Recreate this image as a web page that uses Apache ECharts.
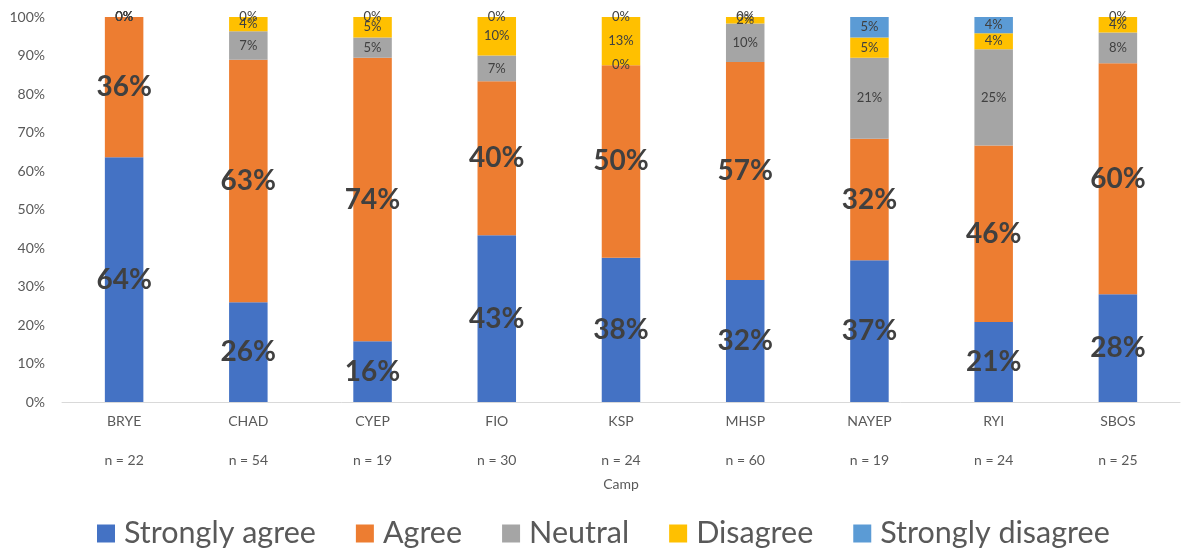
<!DOCTYPE html>
<html>
<head>
<meta charset="utf-8">
<script src="https://cdn.jsdelivr.net/npm/echarts@6/dist/echarts.min.js"></script>
<style>html,body{margin:0;padding:0;background:#fff;}#c{width:1181px;height:550px;}</style>
</head>
<body>
<div id="c"></div>
<script>
const categories = ['BRYE','CHAD','CYEP','FIO','KSP','MHSP','NAYEP','RYI','SBOS'];
const sampleSizes = ['n = 22','n = 54','n = 19','n = 30','n = 24','n = 60','n = 19','n = 24','n = 25'];
const stronglyAgree = [63.6, 25.9, 15.8, 43.3, 37.5, 31.7, 36.8, 20.8, 28.0];
const agree = [36.4, 63.0, 73.6, 40.0, 50.0, 56.6, 31.6, 45.8, 60.0];
const neutral = [0, 7.4, 5.3, 6.7, 0, 10.0, 21.0, 25.0, 8.0];
const disagree = [0, 3.7, 5.3, 10.0, 12.5, 1.7, 5.3, 4.2, 4.0];
const stronglyDisagree = [0, 0, 0, 0, 0, 0, 5.3, 4.2, 0];
const seriesNames = ['Strongly agree','Agree','Neutral','Disagree','Strongly disagree'];
const seriesColors = ['#4472C4','#ED7D31','#A5A5A5','#FFC000','#5B9BD5'];
const yTicks = {min: 0, max: 100, interval: 10};

const FONT = 'Lato, "Open Sans", sans-serif';
const fmt = p => Math.round(p.value) + '%';
const bigLabel = {show: true, position: 'inside', formatter: fmt, fontSize: 28, fontWeight: 'bold', color: '#404040', fontFamily: FONT};
const smallLabel = {show: true, position: 'inside', formatter: fmt, fontSize: 13, color: '#404040', fontFamily: FONT};
const dataSets = [stronglyAgree, agree, neutral, disagree, stronglyDisagree];

const chart = echarts.init(document.getElementById('c'), null, {renderer: 'canvas'});
chart.setOption({
  animation: false,
  textStyle: {fontFamily: FONT},
  grid: {left: 62, right: 1, top: 17, bottom: 148, containLabel: false},
  legend: {
    top: 513, left: 92,
    itemWidth: 18, itemHeight: 18, itemGap: 40,
    icon: 'rect',
    textStyle: {fontSize: 30.5, color: '#595959', fontFamily: FONT, padding: [0, 0, 2, 4]},
    data: seriesNames
  },
  xAxis: {
    type: 'category',
    data: categories.map((c, i) => c + '\n\n' + sampleSizes[i]),
    name: 'Camp', nameLocation: 'middle', nameGap: 75,
    nameTextStyle: {fontSize: 14, color: '#595959', fontFamily: FONT},
    axisLine: {lineStyle: {color: '#D9D9D9', width: 1}},
    axisTick: {show: false},
    axisLabel: {fontSize: 14, color: '#595959', lineHeight: 19.5, margin: 10, fontFamily: FONT}
  },
  yAxis: {
    type: 'value', min: yTicks.min, max: yTicks.max, interval: yTicks.interval,
    axisLine: {show: false}, axisTick: {show: false},
    splitLine: {show: false},
    axisLabel: {formatter: '{value}%', fontSize: 14, color: '#595959', margin: 17, fontFamily: FONT}
  },
  series: seriesNames.map((name, i) => ({
    name, type: 'bar', stack: 'total', barWidth: '31%', clip: false,
    itemStyle: {color: seriesColors[i]},
    label: i < 2 ? bigLabel : smallLabel,
    data: dataSets[i]
  }))
});
</script>
</body>
</html>
